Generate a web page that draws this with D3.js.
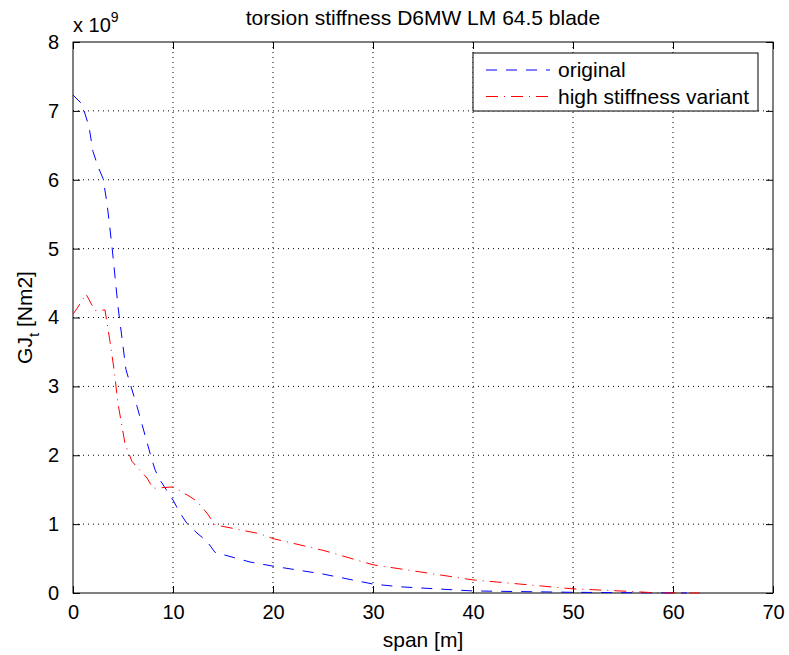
<!DOCTYPE html>
<html lang="en">
<head>
<meta charset="UTF-8">
<title>torsion stiffness</title>
<script src="https://d3js.org/d3.v7.min.js"></script>
<style>
  body, html { margin: 0; background: #fff; }
  svg { font-family: "Liberation Sans", Arial, sans-serif; }
</style>
</head>
<body>
<svg id="chart" width="789" height="655"></svg>
<script>
// span [m] and GJt [x1e9 Nm2]
const spanOriginal = [0, 0.9, 1.6, 2.0, 2.5, 3.0, 3.4, 3.9, 4.5, 5.3, 6.4, 7.8, 8.2, 8.7, 10.0, 10.7, 11.4, 12.4, 13.4, 14.2, 17.7, 20, 25, 30, 32.7, 40, 50, 55, 61.4];
const gjOriginal   = [7.23, 7.1, 6.77, 6.41, 6.19, 6.02, 5.66, 5.03, 4.16, 3.24, 2.71, 1.98, 1.79, 1.64, 1.35, 1.16, 1.01, 0.87, 0.75, 0.59, 0.45, 0.39, 0.275, 0.13, 0.09, 0.03, 0.01, 0.005, 0.0];
const spanStiff = [0, 0.4, 1.3, 2.2, 3.2, 3.7, 4.1, 4.5, 5.2, 5.9, 7.4, 8.0, 10.0, 11.7, 12.4, 13.4, 14.2, 18.7, 20, 25, 30, 40, 42, 50, 54, 58.7, 62.7];
const gjStiff   = [4.05, 4.13, 4.34, 4.1, 4.11, 3.65, 3.25, 2.75, 2.17, 1.91, 1.67, 1.52, 1.54, 1.40, 1.33, 1.16, 0.99, 0.86, 0.79, 0.62, 0.41, 0.19, 0.165, 0.06, 0.035, 0.0, 0.0];
const xTicks = [0, 10, 20, 30, 40, 50, 60, 70];
const yTicks = [0, 1, 2, 3, 4, 5, 6, 7, 8];

const margin = { top: 42, right: 16, bottom: 62, left: 73 };
const width = 789 - margin.left - margin.right;
const height = 655 - margin.top - margin.bottom;

const svg = d3.select("#chart");
const g = svg.append("g").attr("transform", `translate(${margin.left},${margin.top})`);

const x = d3.scaleLinear().domain([0, 70]).range([0, width]);
const y = d3.scaleLinear().domain([0, 8]).range([height, 0]);

// grid
g.append("g").selectAll("line").data(xTicks.slice(1, -1)).enter().append("line")
  .attr("x1", d => x(d)).attr("x2", d => x(d)).attr("y1", 0).attr("y2", height)
  .attr("stroke", "#000").attr("stroke-width", 1).attr("stroke-dasharray", "1,4");
g.append("g").selectAll("line").data(yTicks.slice(1, -1)).enter().append("line")
  .attr("y1", d => y(d)).attr("y2", d => y(d)).attr("x1", 0).attr("x2", width)
  .attr("stroke", "#000").attr("stroke-width", 1).attr("stroke-dasharray", "1,4");

// axes with inward ticks
const tickStyle = sel => {
  sel.select(".domain").remove();
  sel.selectAll("text").attr("font-size", 20).attr("fill", "#000");
  sel.selectAll("line").attr("stroke", "#000");
};
g.append("g").attr("transform", `translate(0,${height})`)
  .call(d3.axisBottom(x).tickValues(xTicks).tickSizeInner(-7).tickSizeOuter(0).tickPadding(12))
  .call(tickStyle);
g.append("g")
  .call(d3.axisTop(x).tickValues(xTicks).tickSizeInner(-7).tickSizeOuter(0).tickFormat(""))
  .call(tickStyle);
g.append("g")
  .call(d3.axisLeft(y).tickValues(yTicks).tickSizeInner(-7).tickSizeOuter(0).tickPadding(14))
  .call(tickStyle);
g.append("g").attr("transform", `translate(${width},0)`)
  .call(d3.axisRight(y).tickValues(yTicks).tickSizeInner(-7).tickSizeOuter(0).tickFormat(""))
  .call(tickStyle);

g.append("rect").attr("width", width).attr("height", height)
  .attr("fill", "none").attr("stroke", "#000").attr("stroke-width", 1);

// lines
const line = d3.line().x(d => x(d[0])).y(d => y(d[1]));
g.append("path").datum(d3.zip(spanOriginal, gjOriginal)).attr("d", line)
  .attr("fill", "none").attr("stroke", "#0000ff").attr("stroke-width", 1)
  .attr("stroke-dasharray", "11,9");
g.append("path").datum(d3.zip(spanStiff, gjStiff)).attr("d", line)
  .attr("fill", "none").attr("stroke", "#ff0000").attr("stroke-width", 1)
  .attr("stroke-dasharray", "12,6,1,6");

// exponent
const ex = g.append("text").attr("x", 0).attr("y", -10).attr("font-size", 20).attr("fill", "#000");
ex.append("tspan").text("x 10");
ex.append("tspan").attr("dy", -10).attr("font-size", 14).text("9");

// title and labels
svg.append("text").attr("x", margin.left + width / 2).attr("y", 25)
  .attr("text-anchor", "middle").attr("font-size", 21).text("torsion stiffness D6MW LM 64.5 blade");
svg.append("text").attr("x", margin.left + width / 2).attr("y", 647)
  .attr("text-anchor", "middle").attr("font-size", 21).text("span [m]");
const yl = svg.append("text").attr("transform", `translate(32,${margin.top + height / 2}) rotate(-90)`)
  .attr("text-anchor", "middle").attr("font-size", 21);
yl.append("tspan").text("GJ");
yl.append("tspan").attr("dy", 7).attr("font-size", 15).text("t");
yl.append("tspan").attr("dy", -7).text(" [Nm2]");

// legend
const legend = svg.append("g").attr("transform", "translate(473,53)");
legend.append("rect").attr("width", 285).attr("height", 58)
  .attr("fill", "#fff").attr("stroke", "#000").attr("stroke-width", 1);
const items = [
  { name: "original", color: "#0000ff", dash: "11,9" },
  { name: "high stiffness variant", color: "#ff0000", dash: "12,6,1,6" }
];
items.forEach((d, i) => {
  const yy = 17 + i * 26.5;
  legend.append("line").attr("x1", 13).attr("x2", 77).attr("y1", yy).attr("y2", yy)
    .attr("stroke", d.color).attr("stroke-dasharray", d.dash);
  legend.append("text").attr("x", 85).attr("y", yy + 7).attr("font-size", 21).text(d.name);
});
</script>
</body>
</html>
